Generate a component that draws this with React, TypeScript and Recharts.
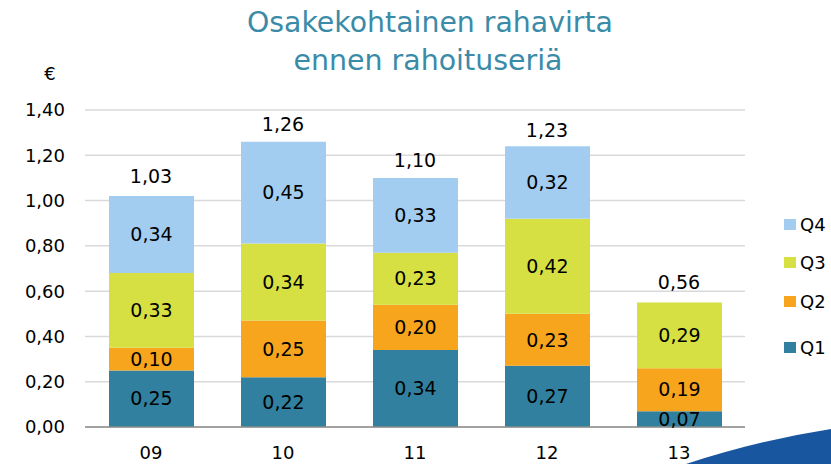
import React from 'react';
import { XAxis, YAxis, CartesianGrid, LabelList, Line, Bar, ComposedChart } from 'recharts';

const categories = ['09', '10', '11', '12', '13'];
const q1 = [0.25, 0.22, 0.34, 0.27, 0.07];
const q2 = [0.10, 0.25, 0.20, 0.23, 0.19];
const q3 = [0.33, 0.34, 0.23, 0.42, 0.29];
const q4: (number | null)[] = [0.34, 0.45, 0.33, 0.32, null];
const totals = [1.03, 1.26, 1.10, 1.23, 0.56];
const yTicks = [0, 0.2, 0.4, 0.6, 0.8, 1.0, 1.2, 1.4];

const series = [
  { key: 'Q1', color: '#31809F' },
  { key: 'Q2', color: '#F6A51D' },
  { key: 'Q3', color: '#D6E042' },
  { key: 'Q4', color: '#A3CDF0' },
];

const data = categories.map((c, i) => ({
  cat: c,
  Q1: q1[i],
  Q2: q2[i],
  Q3: q3[i],
  Q4: q4[i],
  total: totals[i],
}));

const FONT = '"DejaVu Sans", Verdana, sans-serif';
const fmt = (v: any) => (v == null ? '' : Number(v).toFixed(2).replace('.', ','));
const legendTops = [219, 257, 296, 342];

export default function App() {
  return (
    <div style={{ position: 'absolute', left: 0, top: 0, width: 831, height: 464, background: '#fff', fontFamily: FONT }}>
      <ComposedChart
        width={831}
        height={464}
        data={data}
        margin={{ top: 110, right: 86, bottom: 7, left: 25 }}
        barSize={85}
      >
        <CartesianGrid vertical={false} stroke="#D9D9D9" strokeWidth={1.5} />
        <XAxis
          dataKey="cat"
          height={30}
          tickLine={false}
          axisLine={{ stroke: '#8C8C8C', strokeWidth: 1.5 }}
          tickMargin={13}
          tick={{ fill: '#000', fontSize: 18, fontFamily: FONT }}
        />
        <YAxis
          width={60}
          domain={[0, 1.4]}
          ticks={yTicks}
          interval={0}
          tickFormatter={fmt}
          axisLine={false}
          tickLine={false}
          tickMargin={14}
          tick={{ fill: '#000', fontSize: 18, fontFamily: FONT }}
        />
        {series.map((s) => (
          <Bar key={s.key} dataKey={s.key} stackId="a" fill={s.color} isAnimationActive={false}>
            <LabelList dataKey={s.key} position="center" formatter={fmt} fill="#000" fontSize={19} fontFamily={FONT} />
          </Bar>
        ))}
        <Line
          dataKey="total"
          stroke="none"
          dot={false}
          activeDot={false}
          isAnimationActive={false}
        >
          <LabelList dataKey="total" position="top" offset={11} formatter={fmt} fill="#000" fontSize={19} fontFamily={FONT} />
        </Line>
      </ComposedChart>
      <svg width={831} height={464} style={{ position: 'absolute', left: 0, top: 0, pointerEvents: 'none' }}>
        <text x={430} y={32} textAnchor="middle" fill="#3A8BA8" fontSize={29} fontFamily={FONT} textLength={366} lengthAdjust="spacingAndGlyphs">
          Osakekohtainen rahavirta
        </text>
        <text x={428} y={70} textAnchor="middle" fill="#3A8BA8" fontSize={29} fontFamily={FONT} textLength={269} lengthAdjust="spacingAndGlyphs">
          ennen rahoituseriä
        </text>
        <text x={50} y={80} textAnchor="middle" fill="#000" fontSize={18} fontFamily={FONT}>€</text>
        {series.slice().reverse().map((s, i) => (
          <g key={s.key}>
            <rect x={784} y={legendTops[i]} width={12} height={11} fill={s.color} />
            <text x={800} y={legendTops[i] + 12} fill="#000" fontSize={18} fontFamily={FONT}>{s.key}</text>
          </g>
        ))}
        <path d="M 686 464 Q 760 440 831 429 L 831 464 Z" fill="#1856A0" />
      </svg>
    </div>
  );
}
